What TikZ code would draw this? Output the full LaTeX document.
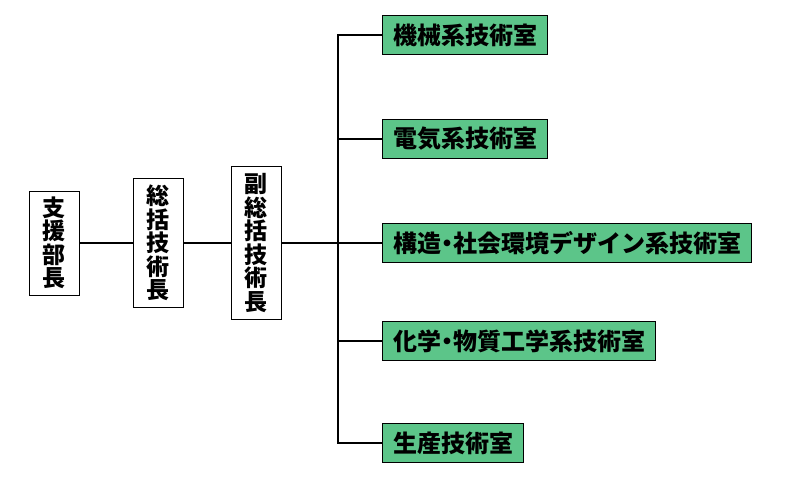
\documentclass[tikz,border=0pt]{standalone}
\usepackage{fontspec}
\setmainfont{Noto Sans CJK JP}
\definecolor{boxgreen}{RGB}{92,197,137}
\begin{document}
\begin{tikzpicture}[x=1pt,y=-1pt,
  conn/.style={line width=1.1pt, black},
  vbox/.style={draw, line width=0.9pt, minimum width=50pt, inner sep=0pt, align=center,
    font=\fontsize{23}{23.5}\selectfont\bfseries},
  gbox/.style={draw, fill=boxgreen, line width=1pt, anchor=west, minimum height=39pt,
    inner xsep=10.5pt, inner ysep=0pt, font=\fontsize{24}{24}\selectfont\bfseries}]
\useasboundingbox (0,0) rectangle (786,492);
\node[vbox, minimum height=104pt] (b1) at (54,243) {支\\援\\部\\長};
\node[vbox, minimum height=129pt] (b2) at (158,243) {総\\括\\技\\術\\長};
\node[vbox, minimum height=153pt] (b3) at (256,243) {副\\総\\括\\技\\術\\長};
\coordinate (sp) at (338,243);
\node[gbox] (g1) at (382,35) {機械系技術室};
\node[gbox] (g2) at (382,139) {電気系技術室};
\node[gbox] (g3) at (382,243) {構造{\kern-6pt・\kern-6pt}社会環境デザイン系技術室};
\node[gbox] (g4) at (382,341) {化学{\kern-6pt・\kern-6pt}物質工学系技術室};
\node[gbox] (g5) at (382,443) {生産技術室};
\draw[conn] (b1.east) -- (b2.west);
\draw[conn] (b2.east) -- (b3.west);
\draw[conn] (b3.east) -- (sp);
\draw[conn] (g1.west) -- (g1.west -| sp) -- (g5.west -| sp) -- (g5.west);
\draw[conn] (g2.west) -- (g2.west -| sp);
\draw[conn] (g3.west) -- (g3.west -| sp);
\draw[conn] (g4.west) -- (g4.west -| sp);
\end{tikzpicture}
\end{document}
